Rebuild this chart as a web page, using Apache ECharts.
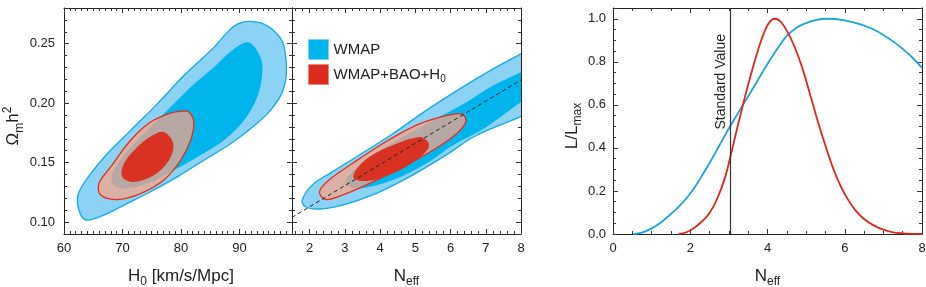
<!DOCTYPE html>
<html><head><meta charset="utf-8">
<script src="https://cdn.jsdelivr.net/npm/echarts@6/dist/echarts.min.js"></script>
<style>html,body{margin:0;padding:0;background:#fff}#c{width:926px;height:287px}</style>
</head><body><div id="c"></div>
<script>
// ---------- Panel 1: Omega_m h^2 vs H0 contours (vertices in data units) ----------
const wmap95_H0 = [[91.6,0.2687],[94.19,0.2664],[96.47,0.258],[97.6,0.2483],[98.06,0.2274],[97.72,0.2148],[96.75,0.2036],[94.76,0.191],[91.91,0.1785],[88.49,0.1659],[83.93,0.152],[79.37,0.138],[74.81,0.1255],[70.26,0.1143],[66.84,0.1059],[64.27,0.1018],[63.3,0.1031],[62.56,0.110],[62.28,0.1199],[62.85,0.1282],[64.56,0.1408],[67.41,0.1575],[71.4,0.1771],[75.95,0.1994],[80.51,0.2232],[85.64,0.2469],[87.92,0.2595],[89.63,0.2664]];
const wmap68_H0 = [[91.62,0.2511],[93.62,0.2385],[93.9,0.2245],[93.05,0.205],[90.77,0.1855],[87.35,0.1688],[82.79,0.1548],[78.23,0.1422],[74.25,0.1324],[70.26,0.1282],[68.26,0.1324],[68.55,0.1436],[71.97,0.1659],[75.95,0.1855],[77.09,0.191],[81.65,0.2134],[85.64,0.2302],[89.06,0.2455]];
const comb95_H0 = [[80.2,0.1933],[81.37,0.1925],[82.2,0.1841],[81.65,0.1688],[79.94,0.152],[77.09,0.1353],[73.1,0.124],[69.1,0.119],[66.27,0.1227],[65.98,0.1324],[67.98,0.1464],[71.4,0.1688],[74.8,0.1841],[78.2,0.1916]];
const comb68_H0 = [[77.09,0.1757],[78.69,0.1659],[77.95,0.152],[75.38,0.1394],[71.97,0.1338],[69.97,0.138],[70.26,0.1492],[72.54,0.1631],[75.1,0.1729]];

// ---------- Panel 2: Omega_m h^2 vs N_eff contours ----------
const wmap95_N = [[8.4,0.2487],[8.07,0.2427],[7.21,0.2288],[6.26,0.212],[5.31,0.1939],[4.36,0.1743],[3.40,0.1562],[2.64,0.1422],[2.07,0.1311],[1.79,0.1185],[1.88,0.1129],[2.26,0.111],[2.93,0.1143],[3.88,0.124],[4.83,0.138],[5.79,0.1548],[6.74,0.173],[8.07,0.1897],[8.4,0.195]];
const wmap68_N = [[8.4,0.232],[8.0,0.226],[7.21,0.2148],[6.45,0.2008],[5.5,0.1855],[4.64,0.1715],[3.79,0.1562],[3.21,0.1422],[3.02,0.1324],[3.4,0.1282],[4.36,0.1353],[5.31,0.1492],[6.07,0.1646],[7.02,0.180],[8.0,0.201],[8.4,0.207]];
const comb95_N = [[6.357,0.1905],[6.43,0.1841],[6.17,0.1743],[5.5,0.1604],[4.64,0.1464],[3.69,0.1324],[2.93,0.1227],[2.45,0.119],[2.28,0.1255],[2.55,0.1353],[3.21,0.1492],[4.07,0.1659],[5.02,0.1813],[5.79,0.1889],[6.17,0.1910]];
const comb68_N = [[5.12,0.1715],[5.36,0.1673],[5.36,0.1617],[5.02,0.152],[4.36,0.1408],[3.69,0.1347],[3.26,0.1366],[3.31,0.1436],[3.69,0.1548],[4.36,0.1646]];
const degeneracyLine = [[1.5,0.104],[8,0.2195]];

// ---------- Panel 3: likelihood curves ----------
const wmapLikeN = [0.54,0.75,1.0,1.25,1.5,1.75,2.0,2.25,2.5,2.75,3.0,3.25,3.5,3.75,4.0,4.25,4.5,4.75,5.0,5.25,5.5,5.75,6.0,6.25,6.5,6.75,7.0,7.25,7.5,7.75,8.0];
const wmapLikeL = [0,0.006,0.026,0.055,0.093,0.135,0.188,0.255,0.33,0.41,0.49,0.565,0.64,0.715,0.79,0.86,0.92,0.958,0.98,0.994,1.0,0.999,0.993,0.982,0.968,0.95,0.925,0.895,0.86,0.82,0.772];
const combLikeN = [1.70,1.9,2.1,2.3,2.5,2.7,2.9,3.04,3.2,3.4,3.6,3.8,3.9,4.0,4.1,4.18,4.27,4.35,4.5,4.7,4.9,5.1,5.3,5.5,5.7,5.9,6.1,6.3,6.5,6.75,7.0,7.25,7.5,7.75,8.0];
const combLikeL = [0,0.008,0.028,0.058,0.097,0.165,0.262,0.36,0.48,0.625,0.76,0.88,0.93,0.97,0.993,1.0,0.996,0.985,0.945,0.87,0.772,0.65,0.525,0.41,0.305,0.22,0.155,0.105,0.07,0.04,0.02,0.008,0.003,0.001,0];
const standardValue = 3.04;

const FONT = '"Liberation Sans", Arial, sans-serif';
const C_LB = '#8bd2f4', C_B = '#00b4ec', C_BS = '#16aae4';
const C_PINK = 'rgba(247,164,138,0.745)', C_R = '#da3222', C_RS = '#e0301e';

const richName = {
  t: {fontSize: 17, fontFamily: FONT, color: '#222', lineHeight: 24},
  s: {fontSize: 12, fontFamily: FONT, color: '#222', lineHeight: 24, verticalAlign: 'bottom'},
  p: {fontSize: 12, fontFamily: FONT, color: '#222', lineHeight: 24, verticalAlign: 'top'}
};
const near = (v, step) => Math.abs(v / step - Math.round(v / step)) < 1e-6;

function axis(gridIndex, position, min, max, o) {
  const show = !!o.labels;
  return Object.assign({
    type: 'value', gridIndex, position, min, max,
    splitLine: {show: false},
    axisLine: {show: true, onZero: false, lineStyle: {color: '#222', width: 1}},
    axisTick: {show: true, inside: true, length: 5, lineStyle: {color: '#333', width: 1}},
    minorTick: {show: true, splitNumber: o.minor, length: 3, lineStyle: {color: '#333', width: 1}},
    axisLabel: {show: show, formatter: o.fmt, fontSize: 13, fontFamily: FONT, color: '#222', margin: o.margin || 8, showMinLabel: true, showMaxLabel: true},
    nameTextStyle: {rich: richName, padding: o.namePad || 0}
  }, o.extra || {});
}

const fx1 = v => near(v, 10) ? String(Math.round(v)) : '';
const fy1 = v => near(v, 0.05) ? v.toFixed(2) : '';
const fx2 = v => near(v, 1) ? String(Math.round(v)) : '';
const fx3 = v => near(v, 2) ? String(Math.round(v)) : '';
const fy3 = v => near(v, 0.2) && v < 1.01 ? v.toFixed(1) : '';

// axis indices: x 0/1 = panel1 bottom/top, 2/3 = panel2, 4/5 = panel3 ; y 0/1 panel1 left/right, 2/3 panel2, 4/5 panel3
const xAxes = [
  axis(0, 'bottom', 60, 99, {labels: true, minor: 10, fmt: fx1, margin: 8, namePad: [0, 0, 0, 6], extra: {splitNumber: 4, name: '{t|H}{s|0}{t| [km/s/Mpc]}', nameLocation: 'middle', nameGap: 30}}),
  axis(0, 'top', 60, 99, {minor: 10, extra: {splitNumber: 4}}),
  axis(1, 'bottom', 1.5, 8, {labels: true, minor: 5, fmt: fx2, margin: 8, extra: {splitNumber: 6, name: '{t|N}{s|eff}', nameLocation: 'middle', nameGap: 30}}),
  axis(1, 'top', 1.5, 8, {minor: 5, extra: {splitNumber: 6}}),
  axis(2, 'bottom', 0, 8, {labels: true, minor: 4, fmt: fx3, margin: 8, extra: {interval: 2, name: '{t|N}{s|eff}', nameLocation: 'middle', nameGap: 30}}),
  axis(2, 'top', 0, 8, {minor: 4, extra: {interval: 2}})
];
const yAxes = [
  axis(0, 'left', 0.09, 0.28, {labels: true, minor: 5, fmt: fy1, margin: 9, namePad: [0, 10, 0, 0], extra: {splitNumber: 4, name: '{t|Ω}{s|m}{t|h}{p|2}', nameLocation: 'middle', nameGap: 37}}),
  axis(0, 'right', 0.09, 0.28, {minor: 5, extra: {splitNumber: 4}}),
  axis(1, 'left', 0.09, 0.28, {minor: 5, extra: {splitNumber: 4}}),
  axis(1, 'right', 0.09, 0.28, {minor: 5, extra: {splitNumber: 4}}),
  axis(2, 'left', 0, 1.05, {labels: true, minor: 4, fmt: fy3, margin: 7, namePad: [0, 10, 0, 0], extra: {interval: 0.2, name: '{t|L/L}{s|max}', nameLocation: 'middle', nameGap: 27}}),
  axis(2, 'right', 0, 1.05, {minor: 4, extra: {interval: 0.2}})
];

function poly(name, xi, yi, pts, style) {
  return {
    type: 'custom', name, coordinateSystem: 'cartesian2d', xAxisIndex: xi, yAxisIndex: yi, clip: true, silent: true,
    itemStyle: {color: style.fill},
    data: [0],
    renderItem: (params, api) => ({
      type: 'polygon',
      shape: {points: pts.map(p => api.coord(p)), smooth: 0.35},
      style: Object.assign({}, style)
    })
  };
}
const s95w = {fill: C_LB, stroke: C_BS, lineWidth: 1.3};
const s68w = {fill: C_B, stroke: null, lineWidth: 0};
const s95c = {fill: C_PINK, stroke: C_RS, lineWidth: 1.3};
const s68c = {fill: C_R, stroke: null, lineWidth: 0};

const series = [
  poly('WMAP', 0, 0, wmap95_H0, s95w),
  poly('WMAP', 0, 0, wmap68_H0, s68w),
  poly('WMAP+BAO+H0', 0, 0, comb95_H0, s95c),
  poly('WMAP+BAO+H0', 0, 0, comb68_H0, s68c),
  poly('WMAP', 2, 2, wmap95_N, s95w),
  poly('WMAP', 2, 2, wmap68_N, s68w),
  poly('WMAP+BAO+H0', 2, 2, comb95_N, s95c),
  poly('WMAP+BAO+H0', 2, 2, comb68_N, s68c),
  {type: 'line', xAxisIndex: 2, yAxisIndex: 2, data: degeneracyLine, showSymbol: false, silent: true,
   lineStyle: {color: '#222', width: 1, type: [4, 3]}},
  {type: 'line', xAxisIndex: 4, yAxisIndex: 4, smooth: 0.4, showSymbol: false, silent: true,
   data: wmapLikeN.map((n, i) => [n, wmapLikeL[i]]), lineStyle: {color: '#1ba5dd', width: 1.8},
   markLine: {silent: true, symbol: 'none', animation: false,
     lineStyle: {color: '#333', type: 'solid', width: 1.2},
     label: {show: true, formatter: 'Standard Value', position: 'insideEndTop', fontSize: 14, fontFamily: FONT, color: '#222', distance: 2, padding: [0, 24, 0, 0]},
     data: [{xAxis: standardValue}]}},
  {type: 'line', xAxisIndex: 4, yAxisIndex: 4, smooth: 0.4, showSymbol: false, silent: true,
   data: combLikeN.map((n, i) => [n, combLikeL[i]]), lineStyle: {color: '#e1261c', width: 1.8}}
];

const option = {
  animation: false,
  backgroundColor: '#fff',
  grid: [
    {left: 64, top: 8, width: 228, height: 226, outerBoundsMode: 'none'},
    {left: 292, top: 8, width: 229, height: 226, outerBoundsMode: 'none'},
    {left: 613, top: 8, width: 309, height: 226, outerBoundsMode: 'none'}
  ],
  xAxis: xAxes,
  yAxis: yAxes,
  legend: {
    orient: 'vertical', left: 303, top: 34, itemWidth: 20, itemHeight: 20, itemGap: 4, selectedMode: false,
    data: [
      {name: 'WMAP', icon: 'rect', itemStyle: {color: C_B, borderColor: '#7fd0f2', borderWidth: 1}},
      {name: 'WMAP+BAO+H0', icon: 'rect', itemStyle: {color: '#dc2b1c', borderColor: '#ee8a80', borderWidth: 1}}
    ],
    formatter: n => n === 'WMAP' ? '{t|WMAP}' : '{t|WMAP+BAO+H}{s|0}',
    textStyle: {rich: {
      t: {fontSize: 15, fontFamily: FONT, color: '#222', lineHeight: 20},
      s: {fontSize: 10, fontFamily: FONT, color: '#222', lineHeight: 20, verticalAlign: 'bottom'}
    }}
  },
  series
};
const chart = echarts.init(document.getElementById('c'));
chart.setOption(option);
</script></body></html>
